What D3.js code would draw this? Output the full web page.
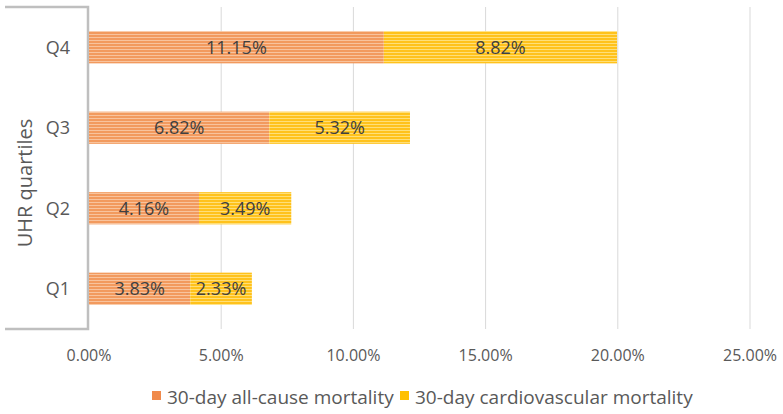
<!DOCTYPE html>
<html>
<head>
<meta charset="utf-8">
<script src="https://cdn.jsdelivr.net/npm/d3@7"></script>
<style>
  body { margin: 0; background: #fff; }
  text { font-family: "Open Sans", sans-serif; }
</style>
</head>
<body>
<svg width="783" height="414"></svg>
<script>
const quartiles = ["Q1", "Q2", "Q3", "Q4"];
const allCause = [3.83, 4.16, 6.82, 11.15];
const cardio = [2.33, 3.49, 5.32, 8.82];
const xTicks = [0, 5, 10, 15, 20, 25];
const seriesNames = ["30-day all-cause mortality", "30-day cardiovascular mortality"];

const svg = d3.select("svg");
const margin = {left: 89, right: 33, top: 7, bottom: 85};
const width = +svg.attr("width");
const height = +svg.attr("height");

const x = d3.scaleLinear()
  .domain([0, 25])
  .range([margin.left, width - margin.right]);

const y = d3.scaleBand()
  .domain(quartiles.slice().reverse())
  .range([margin.top, height - margin.bottom])
  .paddingInner(0.6)
  .paddingOuter(0.3);

// striped fills
const defs = svg.append("defs");
function stripes(id, base, light) {
  const p = defs.append("pattern")
    .attr("id", id)
    .attr("patternUnits", "userSpaceOnUse")
    .attr("width", 4).attr("height", 3);
  p.append("rect").attr("width", 4).attr("height", 3).attr("fill", base);
  p.append("rect").attr("y", 1).attr("width", 4).attr("height", 1).attr("fill", light);
}
stripes("orangeStripe", "#F29A5E", "#F8C39D");
stripes("yellowStripe", "#FFC21C", "#FFDF78");
const fills = ["url(#orangeStripe)", "url(#yellowStripe)"];
const swatch = ["#F08A4B", "#FFC000"];

// gridlines
svg.append("g")
  .selectAll("line")
  .data(xTicks.slice(1))
  .join("line")
  .attr("x1", d => x(d)).attr("x2", d => x(d))
  .attr("y1", margin.top).attr("y2", height - margin.bottom)
  .attr("stroke", "#D9D9D9")
  .attr("stroke-width", 1);

// left frame
const frame = svg.append("g").attr("stroke", "#BFBFBF").attr("stroke-width", 2.5).attr("fill", "none");
frame.append("path")
  .attr("d", `M5,${margin.top}H${margin.left - 1}V${height - margin.bottom}H5`);

// bars
const rows = quartiles.map((q, i) => ({q, a: allCause[i], c: cardio[i]}));

const barG = svg.append("g");
rows.forEach(r => {
  const segs = [
    {x0: 0, x1: r.a, v: r.a, f: fills[0]},
    {x0: r.a, x1: r.a + r.c, v: r.c, f: fills[1]}
  ];
  segs.forEach(s => {
    barG.append("rect")
      .attr("x", x(s.x0))
      .attr("y", y(r.q))
      .attr("width", x(s.x1) - x(s.x0))
      .attr("height", y.bandwidth())
      .attr("fill", s.f);
    barG.append("text")
      .attr("x", (x(s.x0) + x(s.x1)) / 2)
      .attr("y", y(r.q) + y.bandwidth() / 2)
      .attr("dy", "0.36em")
      .attr("text-anchor", "middle")
      .attr("font-size", 18)
      .attr("fill", "#404040")
      .text(s.v.toFixed(2) + "%");
  });
});

// category labels
svg.append("g")
  .selectAll("text")
  .data(quartiles)
  .join("text")
  .attr("x", 70)
  .attr("y", d => y(d) + y.bandwidth() / 2)
  .attr("dy", "0.36em")
  .attr("text-anchor", "end")
  .attr("font-size", 18)
  .attr("fill", "#595959")
  .text(d => d);

// x tick labels
svg.append("g")
  .selectAll("text")
  .data(xTicks)
  .join("text")
  .attr("x", d => x(d))
  .attr("y", 355)
  .attr("dy", "0.36em")
  .attr("text-anchor", "middle")
  .attr("font-size", 16)
  .attr("fill", "#595959")
  .text(d => d.toFixed(2) + "%");

// y axis title
svg.append("text")
  .attr("transform", `translate(25,${(margin.top + height - margin.bottom) / 2 + 15}) rotate(-90)`)
  .attr("dy", "0.36em")
  .attr("text-anchor", "middle")
  .attr("font-size", 20)
  .attr("fill", "#595959")
  .text("UHR quartiles");

// legend
const legendX = [152, 400];
const legend = svg.append("g");
seriesNames.forEach((name, i) => {
  legend.append("rect")
    .attr("x", legendX[i]).attr("y", 391)
    .attr("width", 9).attr("height", 9)
    .attr("fill", swatch[i]);
  legend.append("text")
    .attr("x", legendX[i] + 15)
    .attr("y", 397)
    .attr("dy", "0.36em")
    .attr("font-size", 19)
    .attr("fill", "#595959")
    .text(name);
});
</script>
</body>
</html>
